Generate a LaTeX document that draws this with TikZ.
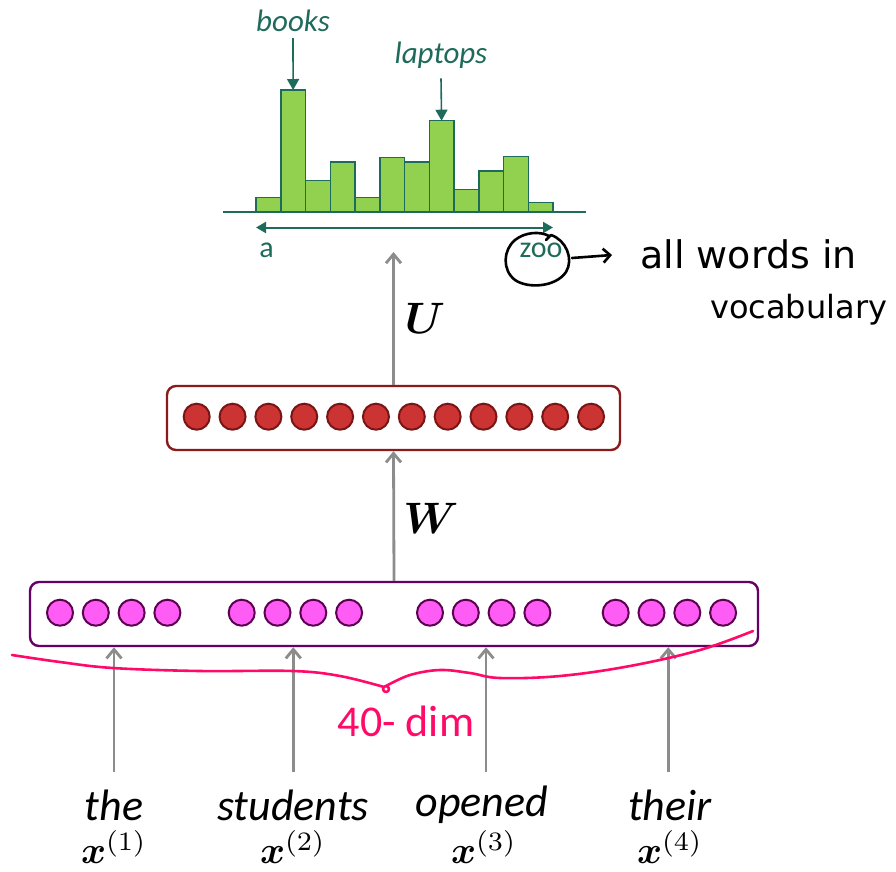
\documentclass[tikz,border=0pt]{standalone}
\usepackage{amsmath,bm}
\usepackage{fontspec}
\setmainfont{Carlito}
\newfontfamily\notefont{DejaVu Sans}
\usetikzlibrary{arrows.meta,calc}

\definecolor{teal}{HTML}{1E6B5B}
\definecolor{bargreen}{HTML}{92D050}
\definecolor{hidfill}{HTML}{CC3333}
\definecolor{hidline}{HTML}{7A1515}
\definecolor{hidbox}{HTML}{8B1A1A}
\definecolor{embfill}{HTML}{FF5CF5}
\definecolor{embline}{HTML}{5C0050}
\definecolor{embbox}{HTML}{660066}
\definecolor{ink}{HTML}{FF0A68}
\definecolor{arrgray}{HTML}{8C8C8C}

% math set at 10pt and scaled up, so that sub-sizes stay in proportion
\newcommand{\bigmath}[2]{\scalebox{#1}{\normalsize$#2$}}

\tikzset{
  layerbox/.style={draw, rounded corners=9pt, line width=2.4pt, fill=white, inner sep=0pt},
  hunit/.style={circle, draw=hidline, fill=hidfill, line width=2pt, minimum size=26pt, inner sep=0pt},
  eunit/.style={circle, draw=embline, fill=embfill, line width=2pt, minimum size=26pt, inner sep=0pt},
  flow/.style={draw=arrgray, line width=2.8pt, -{Straight Barb[length=9pt,width=15pt,line width=2.8pt]}},
  bar/.style={draw=teal, fill=bargreen, line width=1.5pt},
  tealarrow/.style={draw=teal, line width=1.6pt, -{Triangle[length=11pt,width=12pt]}},
  histlabel/.style={text=teal, font=\fontsize{31}{36}\selectfont\itshape, inner sep=0pt},
  axislabel/.style={text=teal, font=\fontsize{30}{34}\selectfont, inner sep=0pt},
  word/.style={font=\fontsize{44}{50}\selectfont\itshape, inner sep=0pt},
  vec/.style={inner sep=0pt},
  matlabel/.style={inner sep=0pt},
  hand/.style={line width=2.6pt, line cap=round, line join=round},
  note/.style={font=\notefont\fontsize{#1}{42}\selectfont, anchor=west, inner sep=0pt},
}

\begin{document}
\begin{tikzpicture}[x=1pt, y=-1pt]
\useasboundingbox (0,0) rectangle (896,871);

% ---------------- output distribution ----------------
\draw[teal, line width=2pt] (223,212) -- (586,212);
\foreach \i/\top in {0/197.3, 1/90, 2/180.7, 3/162, 4/197.3, 5/157.7,
                     6/162, 7/120.7, 8/189.3, 9/171, 10/156.3, 11/202.3} {
  \draw[bar] ({256+24.75*\i},212) rectangle ({256+24.75*(\i+1)},\top);
}
\coordinate (booksbar) at (293.1,90);
\coordinate (laptopsbar) at (441.6,120.7);
\node[histlabel] (books) at (293,21) {books};
\node[histlabel] (laptops) at (441,55) {laptops};
\draw[tealarrow] (books.south) ++(0,6) -- (booksbar);
\draw[tealarrow] (laptops.south) ++(0,10) -- (laptopsbar);

\coordinate (vleft) at (256,227.5);
\coordinate (vright) at (553,227.5);
\draw[draw=teal, line width=2pt, {Triangle[length=10pt,width=11pt]}-{Triangle[length=10pt,width=11pt]}] (vleft) -- (vright);
\node[axislabel] (first) at (266.5,250) {a};
\node[axislabel] (last) at (541,250) {zoo};

% handwritten note on the vocabulary
\draw[hand] (549,236) .. controls (540,231) and (525,232) .. (515,240)
   .. controls (503,250) and (502,270) .. (515,280)
   .. controls (528,289) and (556,287) .. (566,272)
   .. controls (574,259) and (566,240) .. (551,235)
   -- (546,240);
\coordinate (noteL) at (572,258);
\coordinate (noteR) at (612,255);
\draw[hand, -{Straight Barb[length=7pt,width=14pt,line width=2.6pt]}] (noteL) -- (noteR);
\node[note=38] (note1) at (640,254) {all words in};
\node[note=32] (note2) at (710,310) {vocabulary};

% ---------------- hidden layer ----------------
\node[layerbox, draw=hidbox, minimum width=453pt, minimum height=64pt] (hid) at (393.5,418) {};
\foreach \i in {0,...,11} {
  \node[hunit] (h\i) at ({196.7+35.85*\i},416.7) {};
}
\coordinate (Utop) at (393.5,252);
\draw[flow] (hid.north) -- (Utop);
\node[matlabel] (U) at (425,318) {\bigmath{4.4}{\bm{U}}};

% ---------------- embedding layer ----------------
\node[layerbox, draw=embbox, minimum width=728pt, minimum height=64pt] (emb) at (394,614) {};
\foreach \g/\x in {0/60, 1/241.7, 2/430, 3/615.7} {
  \foreach \j in {0,...,3} {
    \node[eunit] (e\g\j) at ({\x+35.8*\j},612.7) {};
  }
}
\draw[flow] (emb.north) -- (hid.south);
\node[matlabel] (W) at (431,518) {\bigmath{4.4}{\bm{W}}};

% ---------------- input words ----------------
\foreach \k/\x in {1/114, 2/293.3, 3/486, 4/668.3} {
  \coordinate (a\k) at (\x,772);
  \draw[flow] (a\k) -- (a\k |- emb.south);
}
\node[word] (w1) at (114,805) {the};
\node[word] (w2) at (293,805) {students};
\node[word] (w3) at (482,805) {opened};
\node[word] (w4) at (670,805) {their};
\node[vec] (x1) at (114,847) {\bigmath{3.8}{\bm{x}^{(1)}}};
\node[vec] (x2) at (293,847) {\bigmath{3.8}{\bm{x}^{(2)}}};
\node[vec] (x3) at (484,847) {\bigmath{3.8}{\bm{x}^{(3)}}};
\node[vec] (x4) at (670,847) {\bigmath{3.8}{\bm{x}^{(4)}}};

% handwritten brace over the four embeddings
\draw[hand, ink] plot[smooth, tension=0.6] coordinates {
  (12,655) (60,662) (113,668) (200,671) (293,671) (340,676) (384,687)};
\draw[hand, ink] (386,689) circle[radius=3];
\draw[hand, ink] plot[smooth, tension=0.6] coordinates {
  (386,686) (410,675) (440,670) (470,673) (500,678) (560,676)
  (630,666) (700,650) (753,631)};
\node[text=ink, font=\fontsize{44}{48}\selectfont, inner sep=0pt] (dim) at (406,721) {40- dim};

\end{tikzpicture}
\end{document}
